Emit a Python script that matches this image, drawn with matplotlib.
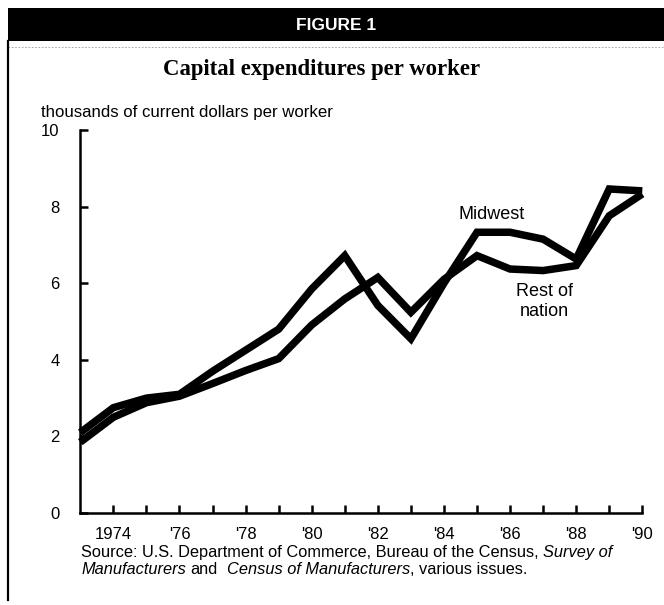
import matplotlib
matplotlib.use('Agg')
import matplotlib.pyplot as plt
from matplotlib.lines import Line2D
from matplotlib.patches import Rectangle

# ---------------- data ----------------
years = list(range(1973, 1991))
midwest = [2.10, 2.75, 3.00, 3.10, 3.70, 4.25, 4.80, 5.85, 6.72, 5.42,
           4.55, 6.00, 7.33, 7.33, 7.15, 6.63, 8.46, 8.41]
rest_of_nation = [1.85, 2.50, 2.88, 3.05, 3.38, 3.72, 4.03, 4.91, 5.59, 6.15,
                  5.24, 6.10, 6.72, 6.37, 6.33, 6.46, 7.76, 8.33]
y_ticks = [0, 2, 4, 6, 8, 10]
x_tick_years = list(range(1974, 1991))
x_tick_labels = ['1974' if y == 1974 else ("'%02d" % (y % 100) if y % 2 == 0 else '')
                 for y in x_tick_years]

title = 'Capital expenditures per worker'
header = 'FIGURE 1'
y_unit = 'thousands of current dollars per worker'

# ---------------- figure ----------------
W, H = 664, 605
fig = plt.figure(figsize=(W / 100, H / 100), dpi=100)
fig.patch.set_facecolor('white')


def fx(px):
    return px / W


def fy(py):
    return 1 - py / H


SANS = ['Liberation Sans', 'DejaVu Sans']
SERIF = ['Liberation Serif', 'DejaVu Serif']

# header bar
fig.patches.append(Rectangle((fx(8), fy(41)), 1 - fx(8), fy(8) - fy(41),
                             transform=fig.transFigure, facecolor='black',
                             edgecolor='none'))
fig.text(fx(336), fy(25), header, color='white', fontweight='bold',
         fontsize=12.5, family=SANS, ha='center', va='center')
# faint dotted scan line below bar
fig.add_artist(Line2D([fx(8), 1], [fy(47), fy(47)], color='#9a9a9a', lw=0.6,
                      ls=(0, (2, 2))))
# left border
fig.add_artist(Line2D([fx(8), fx(8)], [fy(41), fy(600)], color='black', lw=1.6))

# title
fig.text(fx(322), fy(70), title, family=SERIF, fontweight='bold', fontsize=16.4,
         ha='center', va='center')
# unit label
fig.text(fx(41), fy(112), y_unit, family=SANS, fontsize=12.1, ha='left',
         va='center')

# ---------------- axes ----------------
x0, x1 = 80.3, 642.3
y0, y1 = 513, 130
ax = fig.add_axes([fx(x0), fy(y0), (x1 - x0) / W, (y0 - y1) / H])
ax.set_xlim(1973, 1990)
ax.set_ylim(0, 10)
for side in ('top', 'right'):
    ax.spines[side].set_visible(False)
for side in ('left', 'bottom'):
    ax.spines[side].set_linewidth(1.8)
    ax.spines[side].set_capstyle('projecting')
ax.set_facecolor('none')

ax.set_xticks(x_tick_years)
ax.set_xticklabels(x_tick_labels)
ax.set_yticks(y_ticks)
ax.set_yticklabels([str(v) for v in y_ticks])
ax.tick_params(axis='x', direction='in', length=6, width=1.8, pad=10,
               labelsize=12)
ax.tick_params(axis='y', direction='in', length=6, width=1.8, pad=15,
               labelsize=12)
for lab in ax.get_xticklabels() + ax.get_yticklabels():
    lab.set_family(SANS)

ax.plot(years, midwest, color='black', lw=5.4, solid_joinstyle='miter',
        solid_capstyle='butt', clip_on=False)
ax.plot(years, rest_of_nation, color='black', lw=5.4, solid_joinstyle='miter',
        solid_capstyle='butt', clip_on=False)

ax.text(1985.45, 7.8, 'Midwest', family=SANS, fontsize=13, ha='center',
        va='center')
ax.text(1987.03, 5.52, 'Rest of\nnation', family=SANS, fontsize=13,
        ha='center', va='center', linespacing=1.2)

# ---------------- source note ----------------
renderer = fig.canvas.get_renderer()
SRC_SIZE = 11.8
space_px = SRC_SIZE * 0.278 * 100 / 72


def chain(x_px, y_px, parts):
    x = x_px
    for s, style in parts:
        lead = len(s) - len(s.lstrip(' '))
        x += lead * space_px
        txt = s.strip(' ')
        t = fig.text(fx(x), fy(y_px), txt, family=SANS, fontsize=SRC_SIZE,
                     style=style, ha='left', va='baseline')
        bb = t.get_window_extent(renderer)
        x += bb.width
        trail = len(s) - len(s.rstrip(' '))
        x += trail * space_px


chain(81, 557, [('Source: U.S. Department of Commerce, Bureau of the Census,', 'normal'),
                (' Survey of', 'italic')])
chain(81, 574, [('Manufacturers', 'italic'), (' and ', 'normal'),
                (' Census of Manufacturers', 'italic'),
                (', various issues.', 'normal')])

fig.savefig('out.png', dpi=100)
